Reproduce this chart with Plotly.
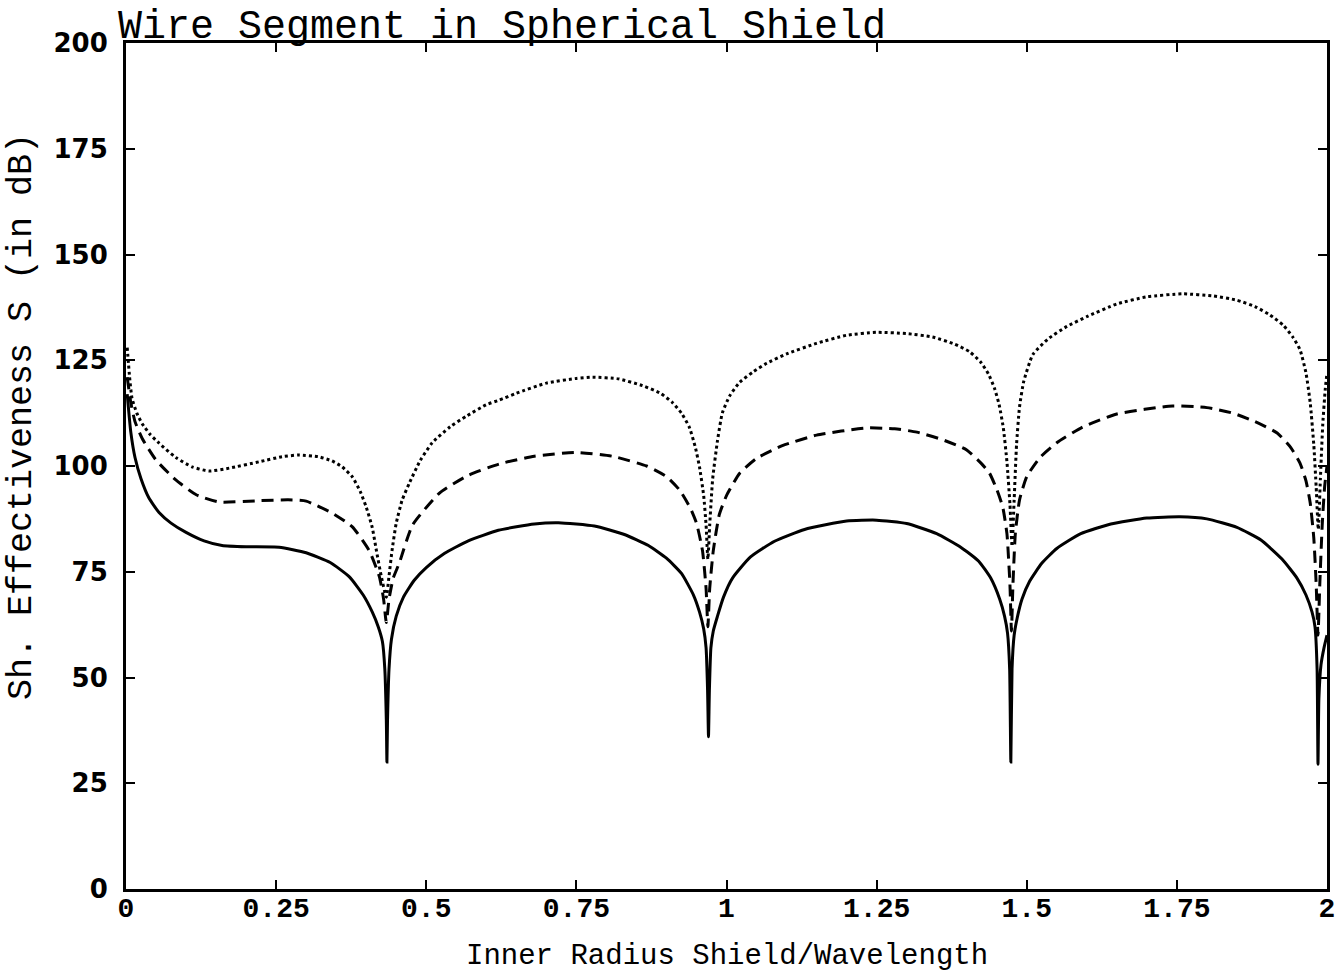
import plotly.graph_objects as go

# ---- data ----
x_solid = [0.002, 0.008, 0.015, 0.025, 0.038, 0.055, 0.075, 0.1, 0.13, 0.16, 0.2, 0.255, 0.3, 0.34, 0.372,
           0.395, 0.41, 0.42, 0.427, 0.431, 0.4335, 0.4345, 0.4355, 0.438, 0.442, 0.45, 0.462, 0.48, 0.5,
           0.53, 0.57, 0.62, 0.68, 0.72, 0.78, 0.83, 0.87, 0.9, 0.925, 0.945, 0.955, 0.962, 0.966, 0.9685,
           0.97, 0.9715, 0.974, 0.978, 0.985, 0.995, 1.01, 1.04, 1.08, 1.13, 1.2, 1.25, 1.3, 1.35, 1.39,
           1.42, 1.44, 1.455, 1.463, 1.468, 1.4715, 1.4735, 1.4755, 1.479, 1.484, 1.492, 1.505, 1.525,
           1.55, 1.59, 1.64, 1.7, 1.755, 1.8, 1.85, 1.89, 1.925, 1.95, 1.965, 1.975, 1.98, 1.9835, 1.985,
           1.9865, 1.99, 1.995, 2.0]
y_solid = [117, 108, 102, 97, 92.5, 89, 86.5, 84.3, 82.3, 81.2, 80.9, 80.8, 79.5, 77.2, 73.8,
           69.5, 65.5, 62, 58.5, 52, 40, 30, 40, 52, 59, 64.5, 69, 73, 76,
           79.3, 82.3, 84.8, 86.3, 86.6, 85.8, 83.8, 81.2, 78.2, 74.6, 69.5, 65.5, 61.5, 57, 47,
           36, 47, 57, 61, 64.5, 69, 73.5, 78.5, 82.2, 85, 87, 87.2, 86.4, 84, 80.8,
           77.5, 73.5, 68.5, 64.5, 60.5, 52, 30, 52, 60, 64, 68.5, 72.8, 77,
           80.5, 84, 86.3, 87.7, 88, 87.5, 85.5, 82.5, 78, 73.5, 69.5, 65.5, 62, 52, 29.5,
           45, 53, 57, 60]

x_dash = [0.002, 0.008, 0.015, 0.027, 0.05, 0.083, 0.117, 0.155, 0.222, 0.27, 0.3, 0.343, 0.377, 0.405,
          0.422, 0.429, 0.4335, 0.438, 0.445, 0.455, 0.477, 0.522, 0.57, 0.622, 0.68, 0.75, 0.81, 0.867,
          0.9, 0.922, 0.94, 0.95, 0.96, 0.966, 0.969, 0.972, 0.978, 0.988, 1.0, 1.022, 1.05, 1.093, 1.15,
          1.233, 1.28, 1.317, 1.36, 1.4, 1.425, 1.438, 1.45, 1.46, 1.467, 1.472, 1.4745, 1.477, 1.481,
          1.488, 1.5, 1.522, 1.55, 1.593, 1.65, 1.743, 1.8, 1.843, 1.88, 1.917, 1.94, 1.955, 1.965, 1.972,
          1.978, 1.982, 1.985, 1.988, 1.992, 1.996, 2.0]
y_dash = [121, 115, 110.5, 106.5, 101.4, 96.7, 93.2, 91.5, 91.8, 92, 91.7, 88.9, 85.6, 80,
          73.8, 68.5, 63, 68.5, 73.5, 77, 86, 93.6, 97.8, 100.5, 102.3, 103.2, 102.3, 100,
          97.5, 94.3, 90, 86.5, 80, 71, 62, 71, 80, 88.5, 93, 98.3, 101.8, 104.8, 107.3,
          109, 108.8, 108, 106.2, 103.8, 100.5, 98.3, 94.5, 90.3, 84, 72, 61, 72, 84,
          92, 97.5, 102, 105.5, 109.2, 112.3, 114.2, 113.8, 112.5, 110.5, 107.8, 104.3, 100.7, 96.5, 91.3,
          83, 72, 60, 72, 86, 95, 100]

x_dot = [0.002, 0.006, 0.01, 0.018, 0.027, 0.04, 0.055, 0.083, 0.11, 0.138, 0.172, 0.222, 0.26, 0.288,
         0.32, 0.343, 0.36, 0.377, 0.39, 0.4, 0.41, 0.417, 0.425, 0.4335, 0.438, 0.443, 0.45, 0.46, 0.472,
         0.49, 0.51, 0.54, 0.567, 0.6, 0.622, 0.65, 0.7, 0.75, 0.777, 0.82, 0.86, 0.89, 0.91, 0.925, 0.938,
         0.948, 0.955, 0.962, 0.966, 0.969, 0.972, 0.977, 0.985, 0.993, 1.005, 1.022, 1.045, 1.067, 1.1,
         1.15, 1.2, 1.25, 1.3, 1.343, 1.38, 1.405, 1.423, 1.436, 1.446, 1.454, 1.461, 1.467, 1.472, 1.4755, 1.479,
         1.483, 1.488, 1.495, 1.51, 1.535, 1.567, 1.6, 1.65, 1.7, 1.76, 1.81, 1.85, 1.88, 1.905, 1.927, 1.943,
         1.955, 1.965, 1.972, 1.978, 1.982, 1.9855, 1.989, 1.993, 1.997, 2.0]
y_dot = [128, 121, 116, 112.5, 110, 107.5, 105.4, 102, 99.8, 98.8, 99.5, 101, 102.2, 102.6,
         102.2, 101.2, 99.8, 97.4, 94, 90.3, 85.5, 80, 74, 69, 74, 80, 86.5, 92, 96,
         101.3, 105.5, 109.3, 111.8, 114.5, 115.6, 117.2, 119.6, 120.7, 121, 120.6, 119, 117.2, 115, 112.5, 109.2,
         104.5, 99.8, 93, 86, 78, 86, 97, 106, 112.5, 116.5, 119.8, 122.3, 124.3, 126.5,
         129, 130.9, 131.6, 131.3, 130.5, 128.8, 127, 124.6, 121.8, 118.5, 114.5, 109, 101, 91, 81, 92,
         105, 114, 120, 126.3, 130, 133, 135.3, 138.3, 140, 140.7, 140.2, 139.2, 137.7, 135.7, 133.3, 130.5,
         127.5, 122, 115, 105, 95, 85, 97, 110, 118, 122]

x_ticks = [0, 0.25, 0.5, 0.75, 1, 1.25, 1.5, 1.75, 2]
x_tick_labels = ["0", "0.25", "0.5", "0.75", "1", "1.25", "1.5", "1.75", "2"]
y_ticks = [0, 25, 50, 75, 100, 125, 150, 175, 200]
y_tick_labels = ["0", "25", "50", "75", "100", "125", "150", "175", "200"]

title_text = "Wire Segment in Spherical Shield"
x_title = "Inner Radius Shield/Wavelength"
y_title = "Sh. Effectiveness S (in dB)"

# ---- figure ----
fig = go.Figure()
fig.add_trace(go.Scatter(x=x_solid, y=y_solid, mode="lines",
                         line=dict(color="black", width=3, shape="spline", smoothing=0.5),
                         showlegend=False))
fig.add_trace(go.Scatter(x=x_dash, y=y_dash, mode="lines",
                         line=dict(color="black", width=3, dash="12px,7px", shape="spline", smoothing=0.5),
                         showlegend=False))
fig.add_trace(go.Scatter(x=x_dot, y=y_dot, mode="lines",
                         line=dict(color="black", width=3, dash="dot", shape="spline", smoothing=0.5),
                         showlegend=False))

W, H = 1337, 972
L, R, T, B = 126, 10, 43, 83
pw, ph = W - L - R, H - T - B

fig.update_layout(
    width=W, height=H,
    margin=dict(l=L, r=R, t=T, b=B),
    paper_bgcolor="white", plot_bgcolor="white",
    showlegend=False,
    title=dict(text=title_text, x=118 / W, xanchor="left", xref="container",
               y=1 - 38 / H, yanchor="bottom", yref="container",
               font=dict(family="Liberation Mono, Courier New, monospace", size=40, color="black")),
)
fig.update_xaxes(range=[0, 2], tickvals=x_ticks, ticktext=x_tick_labels, automargin=False,
                 showline=True, linecolor="black", linewidth=3, mirror="ticks",
                 ticks="inside", ticklen=9, tickwidth=2, tickcolor="black",
                 showgrid=False, zeroline=False, ticklabelstandoff=-9,
                 tickfont=dict(family="Liberation Mono, monospace", size=28, color="black", weight="bold"))
fig.update_yaxes(range=[0, 200], tickvals=y_ticks, ticktext=y_tick_labels, automargin=False,
                 showline=True, linecolor="black", linewidth=3, mirror="ticks",
                 ticks="inside", ticklen=9, tickwidth=2, tickcolor="black",
                 showgrid=False, zeroline=False, ticklabelstandoff=10,
                 tickfont=dict(family="DejaVu Sans, sans-serif", size=26, color="black", weight="bold"))

fig.add_annotation(text=x_title, xref="paper", yref="paper",
                   x=(727 - L) / pw, y=(H - B - 956) / ph, showarrow=False,
                   xanchor="center", yanchor="middle",
                   font=dict(family="Liberation Mono, monospace", size=29, color="black"))
fig.add_annotation(text=y_title, xref="paper", yref="paper",
                   x=(22 - L) / pw, y=(H - B - 417) / ph, showarrow=False, textangle=-90,
                   xanchor="center", yanchor="middle",
                   font=dict(family="Liberation Mono, monospace", size=35, color="black"))

fig.write_html("out.html")
